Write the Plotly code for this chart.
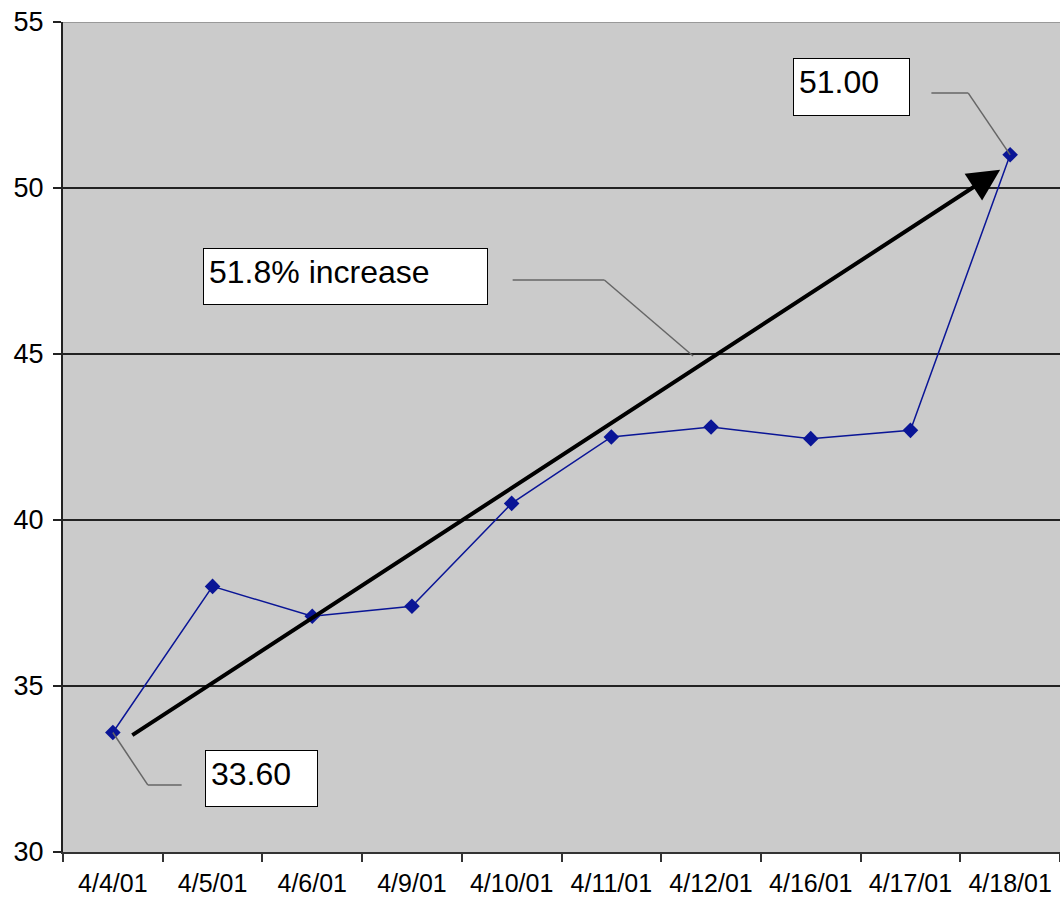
import plotly.graph_objects as go

dates = ["4/4/01", "4/5/01", "4/6/01", "4/9/01", "4/10/01", "4/11/01",
         "4/12/01", "4/16/01", "4/17/01", "4/18/01"]
values = [33.60, 38.0, 37.1, 37.4, 40.5, 42.5, 42.8, 42.45, 42.7, 51.00]
y_ticks = [30, 35, 40, 45, 50, 55]

first, last = values[0], values[-1]
pct = (last - first) / first * 100
n = len(dates)

FONT = "Liberation Sans, Arial, sans-serif"

fig = go.Figure()
fig.add_trace(go.Scatter(
    x=dates, y=values, mode="lines+markers",
    line=dict(color="#0A1596", width=1.5),
    marker=dict(symbol="diamond", size=12, color="#0A1596"),
    showlegend=False, cliponaxis=False,
))

lead = dict(color="#666666", width=1.5)
shapes = [
    dict(type="line", xref="x", yref="y", x0=0, y0=first, x1=0.35, y1=32.02, line=lead),
    dict(type="line", xref="x", yref="y", x0=0.35, y0=32.02, x1=0.69, y1=32.02, line=lead),
    dict(type="line", xref="x", yref="y", x0=n - 1, y0=last, x1=n - 1.42, y1=52.86, line=lead),
    dict(type="line", xref="x", yref="y", x0=n - 1.42, y0=52.86, x1=n - 1.79, y1=52.86, line=lead),
    dict(type="line", xref="x", yref="y", x0=4.01, y0=47.23, x1=4.93, y1=47.23, line=lead),
    dict(type="line", xref="x", yref="y", x0=4.93, y0=47.23, x1=5.82, y1=44.94, line=lead),
    dict(type="line", xref="paper", yref="y", x0=0, x1=1, y0=55, y1=55,
         line=dict(color="#999999", width=2), layer="above"),
]

box = dict(showarrow=False, xref="x", yref="y", xanchor="left", yanchor="top",
           align="left", valign="top", bgcolor="white", bordercolor="black",
           borderwidth=1, borderpad=5, font=dict(family=FONT, size=32, color="black"))

annotations = [
    dict(**box, x=0.92, y=33.07, text=f"{first:.2f}", width=101, height=45),
    dict(**box, x=6.82, y=53.92, text=f"{last:.2f}", width=105, height=46),
    dict(**box, x=0.90, y=48.19, text=f"{pct:.1f}% increase", width=273, height=45),
    dict(x=8.90, y=50.55, ax=0.18, ay=33.49, xref="x", yref="y", axref="x", ayref="y",
         text="", showarrow=True, arrowhead=2, arrowsize=1.6, arrowwidth=4,
         arrowcolor="black"),
]

fig.update_layout(
    width=1060, height=900,
    margin=dict(l=63, r=0, t=22, b=48),
    paper_bgcolor="white", plot_bgcolor="#CBCBCB",
    font=dict(family=FONT, size=24, color="black"),
    shapes=shapes, annotations=annotations,
    xaxis=dict(type="category", categoryorder="array", categoryarray=dates,
               range=[-0.5, n - 0.5], tickson="boundaries", ticks="outside",
               ticklen=8, tickwidth=2, tickcolor="#333333", showgrid=False,
               showline=True, linecolor="#333333", linewidth=2, automargin=False,
               tickfont=dict(family=FONT, size=25, color="black"),
               ticklabelstandoff=8),
    yaxis=dict(range=[30, 55], tickvals=y_ticks, ticks="outside", ticklen=8,
               tickwidth=2, tickcolor="#222222", showgrid=True, gridcolor="#222222",
               gridwidth=1.5, showline=True, linecolor="#222222", linewidth=2,
               zeroline=False, automargin=False,
               tickfont=dict(family=FONT, size=27, color="black"),
               ticklabelstandoff=4),
)

fig.write_html("out.html")
